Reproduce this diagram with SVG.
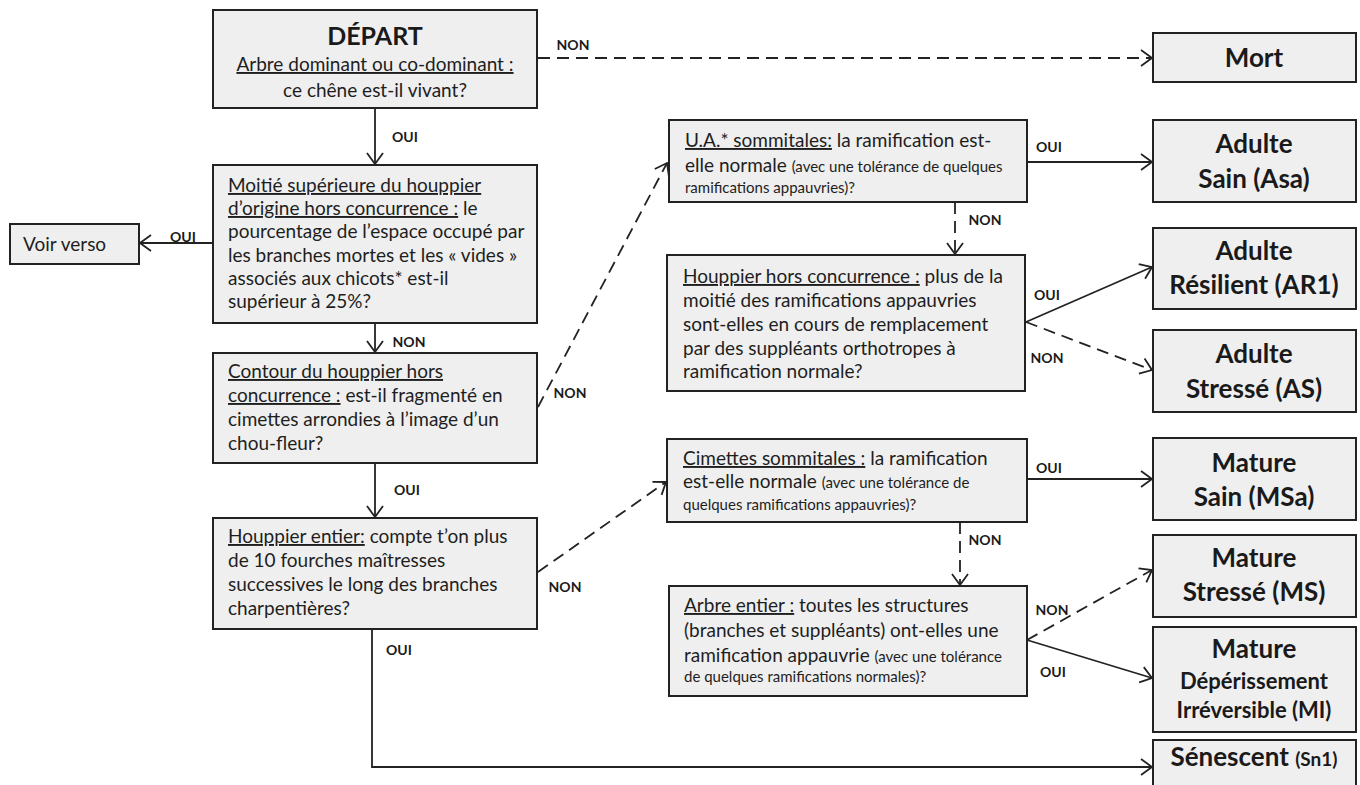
<svg xmlns="http://www.w3.org/2000/svg" width="1360" height="785" viewBox="0 0 1360 785">
<style>
.box{fill:#efefef;stroke:#222;stroke-width:2}
.t{font-family:Lato,"Liberation Sans",sans-serif;font-size:19px;fill:#1e1e1e}
.s{font-size:15px}
.u{text-decoration:underline}
.tb{font-family:Lato,"Liberation Sans",sans-serif;font-weight:bold;font-size:26px;fill:#1a1a1a;text-anchor:middle}
.lb{font-family:Lato,"Liberation Sans",sans-serif;font-weight:bold;font-size:14px;fill:#1a1a1a;text-anchor:middle}
.c{fill:none;stroke:#222;stroke-width:1.8}
.d{stroke-dasharray:12 7}
</style>
<defs>
<marker id="ah" markerUnits="userSpaceOnUse" markerWidth="16" markerHeight="20" refX="12" refY="9" orient="auto" viewBox="0 0 16 18">
<path d="M1,1 L12,9 L1,17" fill="none" stroke="#222" stroke-width="1.8"/>
</marker>
</defs>
<rect width="1360" height="785" fill="#fff"/>

<g id="connectors">
<line class="c d" x1="538" y1="58" x2="1152" y2="58" marker-end="url(#ah)"/>
<line class="c" x1="375" y1="108" x2="375" y2="164" marker-end="url(#ah)"/>
<line class="c" x1="212" y1="243" x2="140" y2="243" marker-end="url(#ah)"/>
<line class="c" x1="375" y1="323" x2="375" y2="352" marker-end="url(#ah)"/>
<line class="c d" x1="538" y1="407" x2="667" y2="163" marker-end="url(#ah)"/>
<line class="c" x1="375" y1="463" x2="375" y2="517" marker-end="url(#ah)"/>
<line class="c d" x1="538" y1="572" x2="666" y2="482" marker-end="url(#ah)"/>
<polyline class="c" points="372,629 372,767 1152,767" marker-end="url(#ah)"/>
<line class="c" x1="1027" y1="162" x2="1152" y2="162" marker-end="url(#ah)"/>
<line class="c d" x1="955" y1="202" x2="955" y2="254" marker-end="url(#ah)"/>
<line class="c" x1="1026" y1="322" x2="1152" y2="267" marker-end="url(#ah)"/>
<line class="c d" x1="1026" y1="322" x2="1152" y2="370" marker-end="url(#ah)"/>
<line class="c" x1="1027" y1="479" x2="1152" y2="479" marker-end="url(#ah)"/>
<line class="c d" x1="960" y1="522" x2="960" y2="585" marker-end="url(#ah)"/>
<line class="c d" x1="1027" y1="640" x2="1152" y2="570" marker-end="url(#ah)"/>
<line class="c" x1="1027" y1="640" x2="1152" y2="678" marker-end="url(#ah)"/>
<text class="lb" x="573" y="50">NON</text>
<text class="lb" x="405" y="142">OUI</text>
<text class="lb" x="183" y="242">OUI</text>
<text class="lb" x="409" y="347">NON</text>
<text class="lb" x="570" y="398">NON</text>
<text class="lb" x="407" y="495">OUI</text>
<text class="lb" x="565" y="592">NON</text>
<text class="lb" x="399" y="655">OUI</text>
<text class="lb" x="1049" y="152">OUI</text>
<text class="lb" x="985" y="225">NON</text>
<text class="lb" x="1047" y="300">OUI</text>
<text class="lb" x="1047" y="363">NON</text>
<text class="lb" x="1049" y="473">OUI</text>
<text class="lb" x="985" y="545">NON</text>
<text class="lb" x="1052" y="615">NON</text>
<text class="lb" x="1053" y="677">OUI</text>
</g>

<g id="depart">
<rect class="box" x="213" y="10" width="324" height="98"/>
<text class="tb" x="375" y="45" style="font-size:25px">DÉPART</text>
<text class="t" x="375" y="71" text-anchor="middle"><tspan class="u">Arbre dominant ou co-dominant :</tspan></text>
<text class="t" x="375" y="97" text-anchor="middle">ce chêne est-il vivant?</text>
</g>

<g id="moitie">
<rect class="box" x="213" y="165" width="324" height="158"/>
<text class="t" x="228" y="192"><tspan class="u">Moitié supérieure du houppier</tspan></text>
<text class="t" x="228" y="215"><tspan class="u">d’origine hors concurrence :</tspan> le</text>
<text class="t" x="228" y="238">pourcentage de l’espace occupé par</text>
<text class="t" x="228" y="262">les branches mortes et les « vides »</text>
<text class="t" x="228" y="285">associés aux chicots* est-il</text>
<text class="t" x="228" y="308">supérieur à 25%?</text>
</g>

<g id="voir-verso">
<rect class="box" x="10" y="224" width="129" height="40"/>
<text class="t" x="23" y="251">Voir verso</text>
</g>

<g id="contour">
<rect class="box" x="213" y="353" width="324" height="110"/>
<text class="t" x="228" y="378"><tspan class="u">Contour du houppier hors</tspan></text>
<text class="t" x="228" y="402"><tspan class="u">concurrence :</tspan> est-il fragmenté en</text>
<text class="t" x="228" y="426">cimettes arrondies à l’image d’un</text>
<text class="t" x="228" y="450">chou-fleur?</text>
</g>

<g id="houppier-entier">
<rect class="box" x="213" y="518" width="324" height="111"/>
<text class="t" x="228" y="543"><tspan class="u">Houppier entier:</tspan> compte t’on plus</text>
<text class="t" x="228" y="567">de 10 fourches maîtresses</text>
<text class="t" x="228" y="591">successives le long des branches</text>
<text class="t" x="228" y="615">charpentières?</text>
</g>

<g id="ua-sommitales">
<rect class="box" x="669" y="120" width="358" height="82"/>
<text class="t" x="685" y="147"><tspan class="u">U.A.* sommitales:</tspan> la ramification est-</text>
<text class="t" x="685" y="172">elle normale <tspan class="s">(avec une tolérance de quelques</tspan></text>
<text class="t s" x="685" y="193">ramifications appauvries)?</text>
</g>

<g id="houppier-hc">
<rect class="box" x="667" y="255" width="358" height="136"/>
<text class="t" x="683" y="283"><tspan class="u">Houppier hors concurrence :</tspan> plus de la</text>
<text class="t" x="683" y="307">moitié des ramifications appauvries</text>
<text class="t" x="683" y="331">sont-elles en cours de remplacement</text>
<text class="t" x="683" y="355">par des suppléants orthotropes à</text>
<text class="t" x="683" y="378">ramification normale?</text>
</g>

<g id="cimettes">
<rect class="box" x="667" y="439" width="360" height="83"/>
<text class="t" x="683" y="465"><tspan class="u">Cimettes sommitales :</tspan> la ramification</text>
<text class="t" x="683" y="488">est-elle normale <tspan class="s">(avec une tolérance de</tspan></text>
<text class="t s" x="683" y="510">quelques ramifications appauvries)?</text>
</g>

<g id="arbre-entier">
<rect class="box" x="669" y="586" width="358" height="110"/>
<text class="t" x="684" y="612"><tspan class="u">Arbre entier :</tspan> toutes les structures</text>
<text class="t" x="684" y="637">(branches et suppléants) ont-elles une</text>
<text class="t" x="684" y="662">ramification appauvrie  <tspan class="s">(avec une tolérance</tspan></text>
<text class="t s" x="684" y="682">de quelques ramifications normales)?</text>
</g>

<g id="mort">
<rect class="box" x="1153" y="33" width="203" height="49"/>
<text class="tb" x="1254" y="67">Mort</text>
</g>
<g id="adulte-sain">
<rect class="box" x="1153" y="120" width="203" height="82"/>
<text class="tb" x="1254" y="153">Adulte</text>
<text class="tb" x="1254" y="188">Sain (Asa)</text>
</g>
<g id="adulte-resilient">
<rect class="box" x="1153" y="228" width="203" height="81"/>
<text class="tb" x="1254" y="260">Adulte</text>
<text class="tb" x="1254" y="294">Résilient (AR1)</text>
</g>
<g id="adulte-stresse">
<rect class="box" x="1153" y="330" width="203" height="82"/>
<text class="tb" x="1254" y="363">Adulte</text>
<text class="tb" x="1254" y="398">Stressé (AS)</text>
</g>
<g id="mature-sain">
<rect class="box" x="1153" y="438" width="203" height="82"/>
<text class="tb" x="1254" y="472">Mature</text>
<text class="tb" x="1254" y="506">Sain (MSa)</text>
</g>
<g id="mature-stresse">
<rect class="box" x="1153" y="535" width="203" height="82"/>
<text class="tb" x="1254" y="567">Mature</text>
<text class="tb" x="1254" y="601">Stressé (MS)</text>
</g>
<g id="mature-deperissement">
<rect class="box" x="1153" y="627" width="203" height="105"/>
<text class="tb" x="1254" y="658">Mature</text>
<text class="tb" x="1254" y="689" style="font-size:22px">Dépérissement</text>
<text class="tb" x="1254" y="718" style="font-size:22px">Irréversible (MI)</text>
</g>
<g id="senescent">
<rect class="box" x="1153" y="740" width="203" height="60"/>
<text class="tb" x="1254" y="766">Sénescent <tspan style="font-size:19px">(Sn1)</tspan></text>
</g>
</svg>
